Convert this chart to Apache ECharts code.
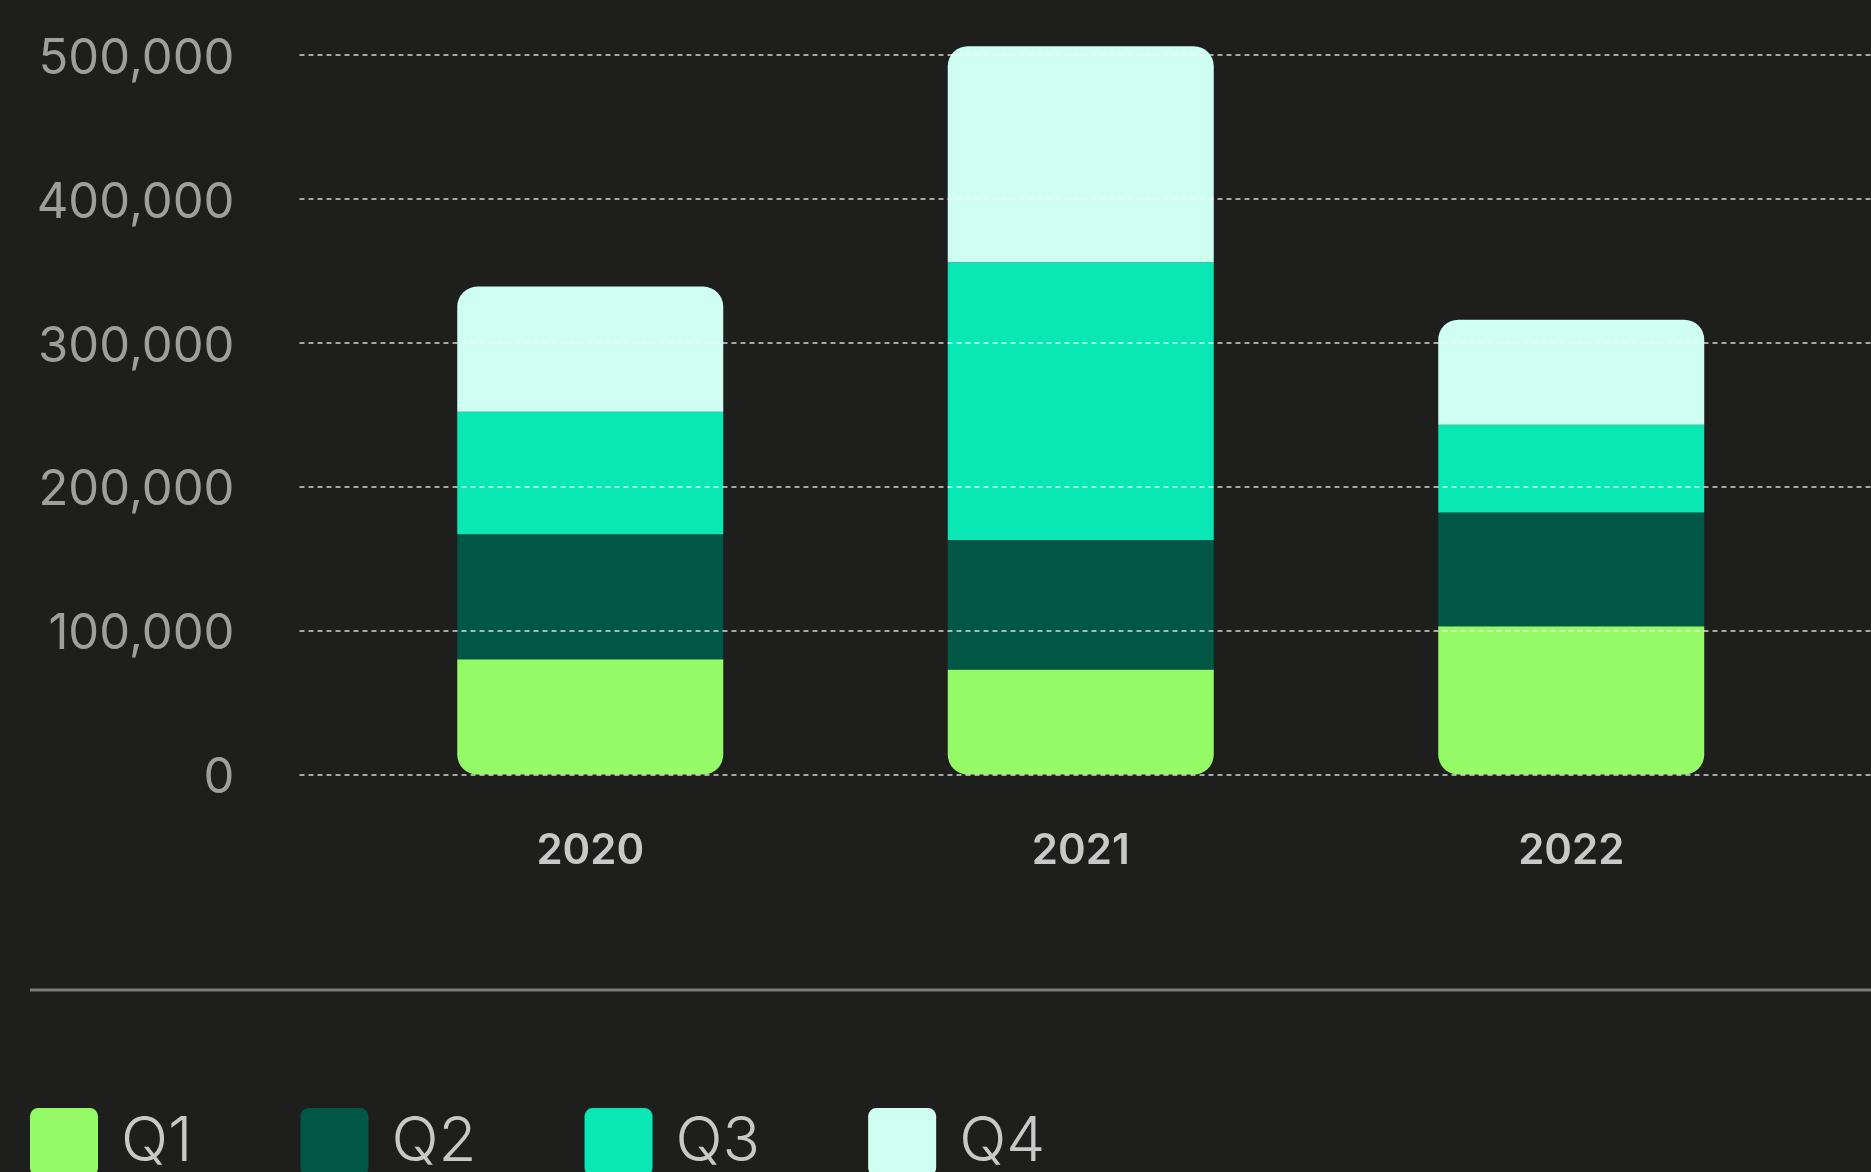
<!DOCTYPE html>
<html>
<head>
<meta charset="utf-8">
<title>Quarterly totals</title>
<script src="https://cdn.jsdelivr.net/npm/echarts@6/dist/echarts.min.js"></script>
<style>
  html, body { margin: 0; padding: 0; background: #1e1e1d; }
  #main { width: 1871px; height: 1172px; }
</style>
</head>
<body>
<div id="main"></div>
<script>
// data
var years = ['2020', '2021', '2022'];
var quarters = ['Q1', 'Q2', 'Q3', 'Q4'];
var q1 = [80000, 73000, 103000];
var q2 = [87000, 90000, 79000];
var q3 = [85000, 193000, 61000];
var q4 = [87000, 150000, 73000];
var colors = ['#94fb66', '#005746', '#09e8b4', '#cffff0'];

var FONT = 'Inter, "Noto Sans", sans-serif';
var chart = echarts.init(document.getElementById('main'));

function fmt(v) {
    return v.toLocaleString('en-US');
}

var seriesData = [q1, q2, q3, q4];
var series = seriesData.map(function (d, i) {
    var r = 0;
    if (i === 0) r = [0, 0, 20, 20];
    if (i === 3) r = [20, 20, 0, 0];
    return {
        name: quarters[i],
        type: 'bar',
        stack: 'total',
        xAxisIndex: 1,
        yAxisIndex: 1,
        barWidth: 266,
        clip: false,
        itemStyle: { color: colors[i], borderRadius: r },
        data: d
    };
});

var option = {
    backgroundColor: '#1e1e1d',
    animation: false,
    color: colors,
    textStyle: { fontFamily: FONT },
    grid: [
        // dashed grid lines
        { left: 299.5, right: 0, top: 54.9, bottom: 397.5 },
        // bars
        { left: 345, right: 54.5, top: 54.9, bottom: 397.5 },
        // y labels, sit a touch lower than the lines
        { left: 299.5, right: 0, top: 59, bottom: 393.5 }
    ],
    legend: {
        left: 25,
        top: 1103,
        itemWidth: 68,
        itemHeight: 84,
        itemGap: 108,
        icon: 'path://M12,0H88A12,12,0,0,1,100,12V88A12,12,0,0,1,88,100H12A12,12,0,0,1,0,88V12A12,12,0,0,1,12,0Z',
        data: quarters,
        textStyle: {
            color: '#c8c8c8',
            fontSize: 62,
            fontWeight: 300,
            fontFamily: FONT,
            padding: [0, 0, 0, 18]
        }
    },
    xAxis: [
        { type: 'category', gridIndex: 0, data: years, show: false },
        {
            type: 'category',
            gridIndex: 1,
            data: years,
            axisLine: { show: false },
            axisTick: { show: false },
            axisLabel: {
                color: '#c8c8c8',
                fontSize: 42,
                fontWeight: 600,
                fontFamily: FONT,
                margin: 56
            }
        },
        { type: 'category', gridIndex: 2, data: years, show: false }
    ],
    yAxis: [
        {
            type: 'value',
            gridIndex: 0,
            min: 0,
            max: 500000,
            interval: 100000,
            z: 10,
            axisLine: { show: false },
            axisTick: { show: false },
            axisLabel: { show: false },
            splitLine: {
                show: true,
                lineStyle: { color: 'rgba(255,255,255,0.62)', width: 2, type: [5, 4] }
            }
        },
        {
            type: 'value',
            gridIndex: 1,
            min: 0,
            max: 500000,
            interval: 100000,
            show: false,
            splitLine: { show: false }
        },
        {
            type: 'value',
            gridIndex: 2,
            min: 0,
            max: 500000,
            interval: 100000,
            axisLine: { show: false },
            axisTick: { show: false },
            splitLine: { show: false },
            axisLabel: {
                color: '#9e9e9e',
                fontSize: 49,
                fontFamily: FONT,
                margin: 65,
                formatter: fmt
            }
        }
    ],
    graphic: [{
        type: 'line',
        shape: { x1: 30, y1: 990, x2: 1871, y2: 990 },
        style: { stroke: '#7b7b7b', lineWidth: 3 }
    }],
    series: series
};

chart.setOption(option);
window.addEventListener('resize', function () {
    chart.resize();
});
</script>
</body>
</html>
